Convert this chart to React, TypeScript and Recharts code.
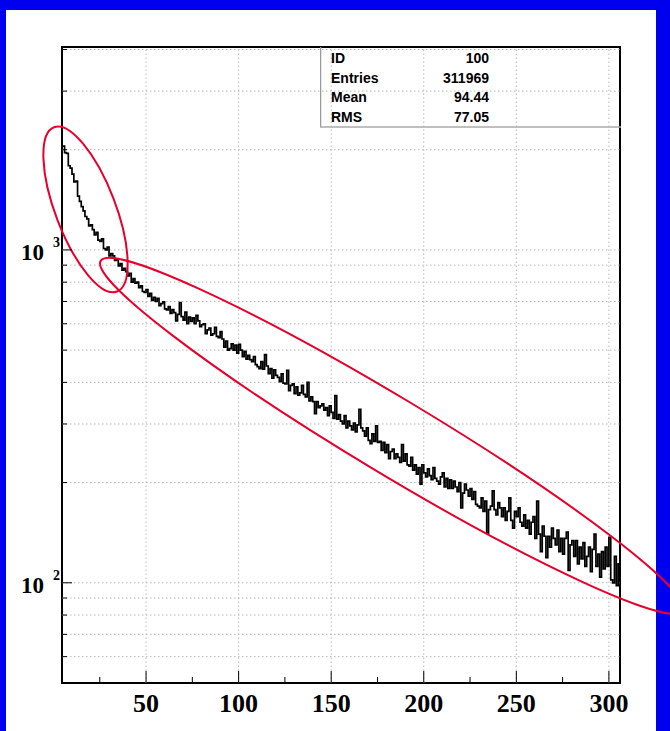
import { LineChart, Line, XAxis, YAxis, ReferenceLine, ReferenceArea } from 'recharts';

// histogram: one count per 1-unit bin, first bin starts at 5
const binStart = 5;
const counts = [
  2050, 1960, 1950, 1790, 1760, 1690, 1600, 1610, 1450, 1400,
  1350, 1310, 1260, 1240, 1180, 1190, 1150, 1110, 1130, 1070,
  1060, 1080, 1010, 1000, 1020, 960, 975, 960, 930, 940,
  895, 910, 870, 880, 860, 835, 850, 800, 820, 795,
  800, 770, 780, 750, 745, 760, 725, 740, 705, 720,
  700, 715, 680, 690, 698, 665, 660, 676, 645, 662,
  648, 612, 640, 695, 630, 615, 650, 600, 628, 610,
  625, 600, 636, 612, 588, 596, 600, 560, 575, 582,
  555, 560, 585, 550, 545, 568, 540, 510, 532, 500,
  505, 522, 500, 518, 490, 520, 500, 478, 496, 470,
  482, 468, 462, 478, 452, 446, 440, 462, 438, 485,
  448, 425, 440, 412, 436, 420, 414, 402, 424, 398,
  396, 435, 378, 392, 396, 370, 388, 366, 372, 392,
  368, 362, 400, 352, 362, 350, 322, 350, 336, 340,
  345, 330, 336, 318, 340, 325, 312, 365, 310, 320,
  306, 300, 318, 292, 306, 296, 288, 302, 284, 298,
  332, 292, 286, 276, 292, 268, 262, 280, 266, 296,
  264, 266, 250, 264, 246, 260, 236, 248, 252, 236,
  244, 238, 230, 260, 232, 244, 226, 224, 238, 218,
  226, 212, 222, 198, 226, 214, 208, 220, 210, 204,
  222, 206, 202, 198, 208, 214, 194, 206, 192, 204,
  192, 202, 194, 188, 200, 168, 186, 198, 190, 182,
  192, 178, 188, 172, 170, 168, 180, 164, 176, 141,
  166, 170, 189, 166, 160, 174, 168, 158, 168, 154,
  164, 180, 154, 146, 164, 158, 168, 152, 148, 160,
  146, 154, 140, 152, 158, 136, 176, 140, 124, 148,
  138, 119, 138, 128, 146, 136, 130, 144, 124, 136,
  122, 136, 142, 109, 130, 134, 120, 134, 114, 128,
  118, 132, 112, 120, 128, 108, 126, 140, 112, 122,
  104, 124, 110, 128, 112, 137, 102, 100, 120, 98,
  114,
];

const xDomain = [4.6, 306];
const yDomain = [50, 4070];
const xTicks = [25, 50, 75, 100, 125, 150, 175, 200, 225, 250, 275, 300];
const xGrid = [50, 100, 150, 200, 250, 300];
const yTicks = [60, 70, 80, 90, 100, 200, 300, 400, 500, 600, 700, 800, 900, 1000, 2000, 3000, 4000];
const yDecades = [100, 1000];

const statNames = ['ID', 'Entries', 'Mean', 'RMS'];
const statValues = ['100', '311969', '94.44', '77.05'];

// red hand-drawn ellipses: ends of the long axis in data units, half-width in px
const ellipses = [
  { from: [0.3, 2336], to: [34.3, 750], halfWidth: 30 },
  { from: [25.5, 927], to: [340, 82.4], halfWidth: 38 },
];

const data = counts.map((c, i) => ({ x: binStart + i, count: c }));
// close the last bin at its upper edge
data.push({ x: binStart + counts.length, count: counts[counts.length - 1] });

const SERIF = '"Liberation Serif", "DejaVu Serif", serif';
const SANS = '"Liberation Sans", Arial, sans-serif';
const RED = '#e8002d';
const GRID = '#b8b8b8';

function XTick({ x, y, payload }: any) {
  const v = payload.value as number;
  const major = v % 50 === 0;
  return (
    <g>
      <line x1={x} x2={x} y1={y} y2={y - (major ? 12 : 6)} stroke="#000" strokeWidth={1} />
      {major && (
        <text x={x} y={y + 29} textAnchor="middle" fontFamily={SERIF} fontWeight="bold" fontSize={26} fill="#000">
          {v}
        </text>
      )}
    </g>
  );
}

function YTick({ x, y, payload }: any) {
  const v = payload.value as number;
  const major = yDecades.includes(v);
  return (
    <g>
      <line x1={x} x2={x + (major ? 10 : 5)} y1={y} y2={y} stroke="#000" strokeWidth={1} />
      {major && (
        <>
          <text x={44} y={y + 10} textAnchor="end" fontFamily={SERIF} fontWeight="bold" fontSize={23} fill="#000">
            10
          </text>
          <text x={53} y={y - 3} fontFamily={SERIF} fontWeight="bold" fontSize={14} fill="#000">
            {Math.round(Math.log10(v))}
          </text>
        </>
      )}
    </g>
  );
}

const ellipseShape = (halfWidth: number) => (p: any) => {
  const cx = (p.x1 + p.x2) / 2;
  const cy = (p.y1 + p.y2) / 2;
  const rx = Math.hypot(p.x2 - p.x1, p.y2 - p.y1) / 2;
  const angle = (Math.atan2(p.y2 - p.y1, p.x2 - p.x1) * 180) / Math.PI;
  return (
    <ellipse
      cx={cx}
      cy={cy}
      rx={rx}
      ry={halfWidth}
      transform={`rotate(${angle} ${cx} ${cy})`}
      fill="none"
      stroke={RED}
      strokeWidth={2}
    />
  );
};

function StatsBox() {
  return (
    <svg width={301} height={82} style={{ position: 'absolute', left: 320, top: 47 }}>
      <line x1={0.5} x2={0.5} y1={0} y2={80} stroke="#999" strokeWidth={1.5} />
      <line x1={0} x2={301} y1={80} y2={80} stroke="#aaa" strokeWidth={1.5} />
      {statNames.map((n, i) => (
        <g key={n}>
          <text x={11} y={16 + i * 19.7} fontFamily={SANS} fontWeight="bold" fontSize={14} fill="#000">
            {n}
          </text>
          <text x={169} y={16 + i * 19.7} textAnchor="end" fontFamily={SANS} fontWeight="bold" fontSize={14} fill="#000">
            {statValues[i]}
          </text>
        </g>
      ))}
    </svg>
  );
}

export default function App() {
  return (
    <div style={{ position: 'absolute', left: 0, top: 0, width: 670, height: 731, background: '#0000ee', overflow: 'hidden' }}>
      <div style={{ position: 'absolute', left: 6, top: 10, width: 650, height: 721, background: '#fff' }} />
      <div style={{ position: 'absolute', left: 0, top: 0 }}>
        <LineChart width={670} height={731} data={data} margin={{ top: 47, right: 50, bottom: 0, left: 0 }}>
          {xGrid.map((v) => (
            <ReferenceLine key={`vx${v}`} x={v} stroke={GRID} strokeDasharray="1.5 2.5" />
          ))}
          {yTicks.map((v) => (
            <ReferenceLine key={`hy${v}`} y={v} stroke={GRID} strokeDasharray="1.5 2.5" />
          ))}
          <XAxis
            dataKey="x"
            type="number"
            domain={xDomain}
            ticks={xTicks}
            allowDataOverflow
            axisLine={false}
            tickLine={false}
            tickSize={0}
            tickMargin={0}
            height={48}
            interval={0}
            tick={<XTick />}
          />
          <YAxis
            dataKey="count"
            scale="log"
            domain={yDomain}
            ticks={yTicks}
            allowDataOverflow
            axisLine={false}
            tickLine={false}
            tickSize={0}
            tickMargin={0}
            width={62}
            interval={0}
            tick={<YTick />}
          />
          <Line
            type="stepAfter"
            dataKey="count"
            stroke="#000"
            strokeWidth={1.7}
            dot={false}
            isAnimationActive={false}
          />
          <ReferenceArea
            x1={xDomain[0]}
            x2={xDomain[1]}
            y1={yDomain[0]}
            y2={yDomain[1]}
            fill="none"
            fillOpacity={0}
            stroke="#000"
            strokeWidth={2}
            ifOverflow="visible"
          />
          {ellipses.map((e, i) => (
            <ReferenceLine
              key={`el${i}`}
              segment={[
                { x: e.from[0], y: e.from[1] },
                { x: e.to[0], y: e.to[1] },
              ]}
              ifOverflow="visible"
              shape={ellipseShape(e.halfWidth)}
            />
          ))}
        </LineChart>
      </div>
      <StatsBox />
    </div>
  );
}
